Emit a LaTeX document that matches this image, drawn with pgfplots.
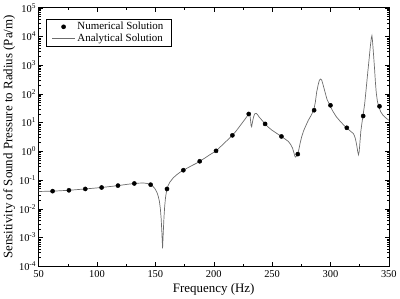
\documentclass[border=0pt]{standalone}
\usepackage{pgfplots}
\pgfplotsset{compat=1.18}
\usepackage{fontspec}
\setmainfont{Liberation Serif}
\begin{document}
\begin{tikzpicture}
\begin{axis}[
  scale only axis,
  width=351bp, height=259bp,
  xmin=50, xmax=350,
  ymode=log, ymin=1e-4, ymax=1e5,
  xtick={50,100,...,350},
  minor xtick={75,125,...,325},
  ytick={1e-4,1e-3,1e-2,1e-1,1e0,1e1,1e2,1e3,1e4,1e5},
  yticklabels={10\textsuperscript{-4},10\textsuperscript{-3},10\textsuperscript{-2},10\textsuperscript{-1},10\textsuperscript{0},10\textsuperscript{1},10\textsuperscript{2},10\textsuperscript{3},10\textsuperscript{4},10\textsuperscript{5}},
  /pgf/number format/assume math mode=true,
  tick align=inside,
  major tick length=4bp,
  minor tick length=2bp,
  tick style={black, line width=0.4pt},
  axis line style={black, line width=0.5pt},
  ticklabel style={font=\fontsize{10.5}{12}\selectfont},
  xticklabel style={yshift=-1bp},
  yticklabel style={xshift=1bp},
  xlabel={Frequency (Hz)},
  ylabel={Sensitivity of Sound Pressure to Radius (Pa/m)},
  label style={font=\fontsize{13}{15}\selectfont},
  xlabel style={yshift=1bp},
  ylabel style={yshift=-3bp},
  legend style={at={(0.02,0.958)}, anchor=north west, draw=black, line width=0.4pt,
    font=\fontsize{11}{12.5}\selectfont, inner xsep=6bp, inner ysep=1.5bp, row sep=-1.5bp},
  legend cell align=left,
]
\addplot[only marks, mark=*, mark size=2.1bp, black,
  legend image code/.code={\fill[black] (11.5bp,0bp) circle (2.1bp);}] coordinates {
(62,0.041) (76,0.044) (90,0.049) (104,0.055) (118,0.064) (132,0.076) (146,0.069)
(160,0.049) (174,0.22) (188,0.45) (202,1.04) (216,3.6) (230,20) (244,9)
(258,3.3) (272,0.80) (286,27) (300,40) (314,6.6) (328,17) (342,37)
};
\addlegendentry{Numerical Solution}
\addplot[gray!85!black, line width=0.7pt,
  legend image code/.code={\draw[gray!85!black, line width=0.7pt] (0bp,0bp) -- (23bp,0bp);}] coordinates {
(50,0.040) (62,0.041) (76,0.044) (90,0.049) (104,0.055) (118,0.064) (126,0.071) (132,0.076)
(136,0.078) (140,0.079) (143,0.076) (146,0.069) (148,0.060) (150,0.048) (151.5,0.036)
(152.5,0.027) (153.5,0.018) (154.3,0.010) (155,0.0045) (155.6,0.0015) (156.2,0.00042)
(156.8,0.0015) (157.4,0.005) (158,0.012) (158.7,0.024) (159.4,0.037) (160,0.049)
(161,0.065) (162.5,0.085) (165,0.115) (168,0.15) (171,0.185) (174,0.22) (178,0.27)
(182,0.33) (185,0.38) (188,0.45) (192,0.57) (196,0.73) (199,0.87) (202,1.04) (205,1.35)
(208,1.75) (211,2.3) (214,3.0) (216,3.6) (219,5.0) (222,7.2) (225,10.5) (227,13.5)
(229,17.5) (230.5,21) (231.3,15) (232,8) (232.5,7.2) (233,9.5) (234,15) (235,20)
(236.3,21) (237.5,19) (239,15.5) (241,12.5) (244,9) (247,6.8) (250,5.4) (254,4.2)
(258,3.3) (261,2.7) (264,2.2) (266,1.7) (267.5,1.3) (268.5,0.95) (269.3,0.72)
(269.9,0.63) (270.6,0.66) (271.3,0.73) (272,0.80) (273,1.2) (274,1.9) (275.4,3.3)
(277,5.2) (279,8) (281,12) (283.5,18) (285.6,27) (287,50) (288.2,117) (289.5,210)
(290.5,300) (291.6,330) (292.5,300) (293.5,220) (295.3,117) (297,65) (299.5,40)
(302,25) (305,16) (308,11.5) (311,8.5) (313.6,6.6) (316,5.5) (318,4.7) (319.5,4.2)
(320.5,3.5) (321.5,2.6) (322.5,1.6) (323.4,0.95) (324,0.76) (324.6,1.0) (325.3,2.2)
(326,5) (327,10) (327.8,17) (329.3,45) (330.7,170) (332,600) (333,1500) (334,4000)
(335,9000) (335.5,10700) (336,7000) (337,2000) (337.8,700) (338.5,250) (339.2,110)
(340.2,55) (341.3,37) (343,24) (345,18) (347.5,14.5) (350,12)
};
\addlegendentry{Analytical Solution}
\end{axis}
\end{tikzpicture}
\end{document}
